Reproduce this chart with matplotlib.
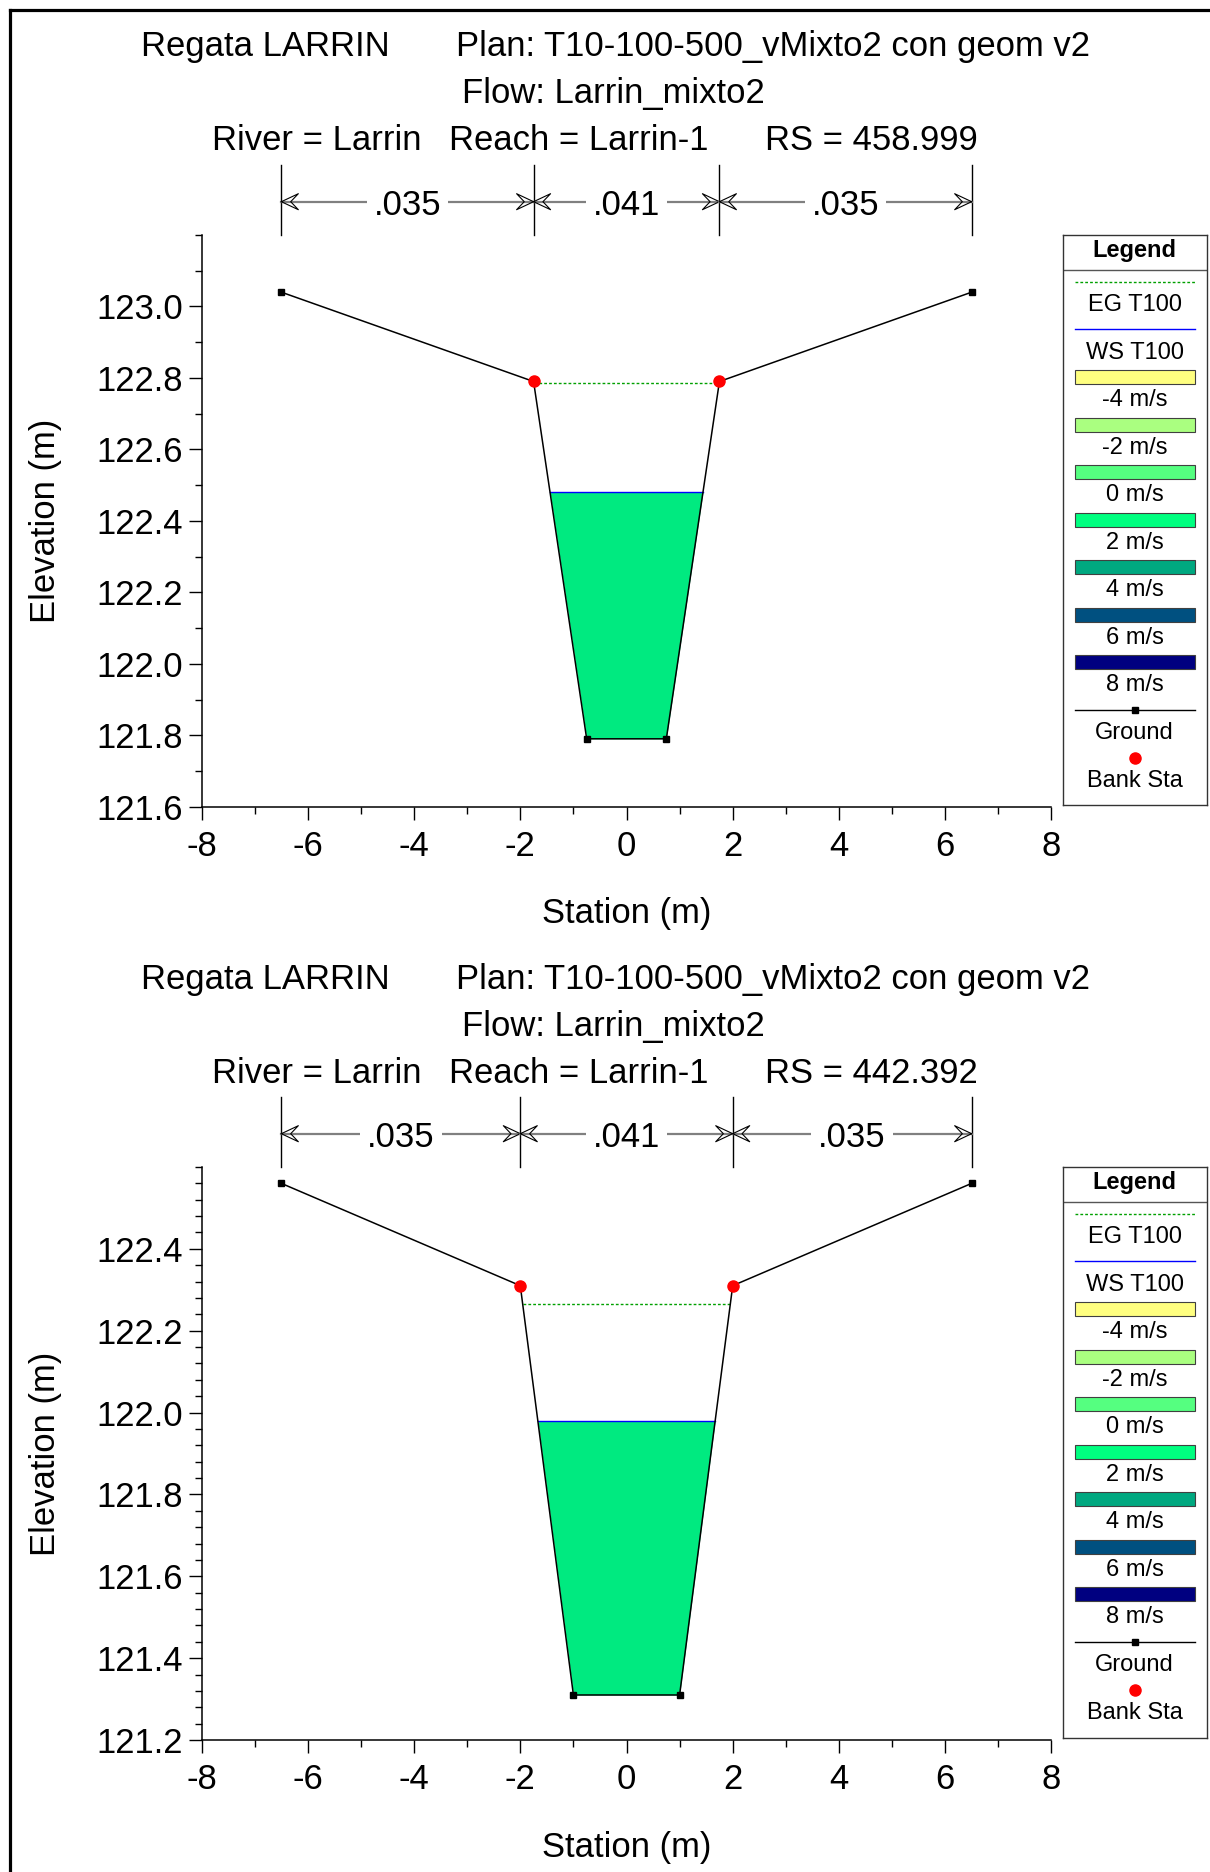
import numpy as np
import matplotlib
matplotlib.use("Agg")
import matplotlib.pyplot as plt
from matplotlib.lines import Line2D
from matplotlib.patches import Rectangle

plt.rcParams['font.family'] = ['Liberation Sans', 'DejaVu Sans']
plt.rcParams['axes.unicode_minus'] = False

title1 = "Regata LARRIN"
title_plan = "Plan: T10-100-500_vMixto2 con geom v2"
title_flow = "Flow: Larrin_mixto2"
river_txt = "River = Larrin"
reach_txt = "Reach = Larrin-1"

rs_top = "RS = 458.999"
sta_top = np.array([-6.5, -1.75, -0.75, 0.75, 1.75, 6.5])
elev_top = np.array([123.04, 122.79, 121.79, 121.79, 122.79, 123.04])
banks_top = [-1.75, 1.75]
ws_top = 122.48
eg_top = 122.785
nbreaks_top = [-6.5, -1.75, 1.75, 6.5]

rs_bot = "RS = 442.392"
sta_bot = np.array([-6.5, -2.0, -1.0, 1.0, 2.0, 6.5])
elev_bot = np.array([122.56, 122.31, 121.31, 121.31, 122.31, 122.56])
banks_bot = [-2.0, 2.0]
ws_bot = 121.98
eg_bot = 122.265
nbreaks_bot = [-6.5, -2.0, 2.0, 6.5]

n_values = ['.035', '.041', '.035']

leg_labels = ['-4 m/s', '-2 m/s', '0 m/s', '2 m/s', '4 m/s', '6 m/s', '8 m/s']
leg_colors = ['#FFFF80', '#AAFF80', '#55FF80', '#00FF80', '#00A880', '#005080', '#000080']
water_color = '#00EA80'

W, H = 1210, 1872
fig = plt.figure(figsize=(W / 100, H / 100), dpi=100)
FS = 24.9
LFS = 17


def fx(px):
    return px / W


def fy(py):
    return 1 - py / H


def wet_edges(sta, elev, level):
    xs = []
    for i in range(len(sta) - 1):
        z0, z1 = elev[i] - level, elev[i + 1] - level
        if z0 * z1 < 0:
            xs.append(sta[i] + (sta[i + 1] - sta[i]) * z0 / (z0 - z1))
    return xs[0], xs[-1]


def chevron(ax, x, y, direction):
    # hollow arrow head like HEC-RAS draws, x in data, y in axes fraction
    tr = ax.get_xaxis_transform()
    L, w = 0.32 * direction, 0.014
    px = [x, x - L, x - 0.55 * L, x - L, x]
    py = [y, y + w, y, y - w, y]
    ax.plot(px, py, color='black', lw=0.8, transform=tr, clip_on=False)


def draw_section(top_px, bot_px, sta, elev, banks, ws, eg, ylim, major, minor,
                 nbreaks, rs, title_y):
    ax = fig.add_axes([fx(201.7), fy(bot_px), fx(1051.3) - fx(201.7),
                       (bot_px - top_px) / H])
    ax.fill_between(sta, elev, ws, where=elev <= ws, interpolate=True,
                    color=water_color, lw=0, zorder=1)
    xl, xr = wet_edges(sta, elev, ws)
    ax.plot([xl, xr], [ws, ws], color='blue', lw=1.0, zorder=2)
    el, er = wet_edges(sta, elev, eg)
    ax.plot([el, er], [eg, eg], color='#00A000', lw=1.0, ls=(0, (2, 1.5)), zorder=2)
    ax.plot(sta, elev, color='black', lw=1.1, marker='s', ms=4.5, zorder=3)
    bank_z = np.interp(banks, sta, elev)
    ax.plot(banks, bank_z, ls='none', marker='o', ms=8, color='red',
            mec='red', zorder=4)

    ax.set_xlim(-8, 8)
    ax.set_ylim(*ylim)
    ax.set_xticks(np.arange(-8, 9, 2))
    ax.set_xticks(np.arange(-8, 9, 1), minor=True)
    ax.set_yticks(major)
    ax.set_yticks(minor, minor=True)
    ax.yaxis.set_major_formatter(matplotlib.ticker.FormatStrFormatter('%.1f'))
    ax.tick_params(which='major', length=9.5, width=1, labelsize=FS, pad=4)
    ax.tick_params(which='minor', length=5, width=1)
    ax.tick_params(axis='x', which='major', pad=7)
    for s in ['top', 'right']:
        ax.spines[s].set_visible(False)
    for s in ['left', 'bottom']:
        ax.spines[s].set_linewidth(1.1)

    h = bot_px - top_px
    ax.text(-0.1844, 0.5, 'Elevation (m)', transform=ax.transAxes, rotation=90,
            ha='center', va='center', fontsize=FS)
    ax.text(0.5, -(914 - 806.7) / h, 'Station (m)', transform=ax.transAxes,
            ha='center', va='center', fontsize=FS)

    # Manning's n bar above the plot
    tr = ax.get_xaxis_transform()
    y_arr = 1 + 33.3 / h
    for b in nbreaks:
        ax.plot([b, b], [1.0, 1 + 70 / h], color='black', lw=1, transform=tr,
                clip_on=False)
    for a, b, n in zip(nbreaks[:-1], nbreaks[1:], n_values):
        ax.plot([a, b], [y_arr, y_arr], color='#808080', lw=1.6, transform=tr,
                clip_on=False)
        chevron(ax, a, y_arr, -1)
        chevron(ax, b, y_arr, 1)
        ax.text((a + b) / 2, y_arr - 3.5 / h, n, transform=tr, ha='center',
                va='center', fontsize=FS,
                bbox=dict(boxstyle='square,pad=0.2', fc='white', ec='none'))

    # titles
    y1, y2, y3 = [t + 3.5 for t in title_y]
    fig.text(fx(140.8), fy(y1), title1, fontsize=FS, va='center', ha='left')
    fig.text(fx(455.8), fy(y1), title_plan, fontsize=FS, va='center', ha='left')
    fig.text(fx(613.5), fy(y2), title_flow, fontsize=FS, va='center', ha='center')
    fig.text(fx(212.4), fy(y3), river_txt, fontsize=FS, va='center', ha='left')
    fig.text(fx(448.7), fy(y3), reach_txt, fontsize=FS, va='center', ha='left')
    fig.text(fx(764.9), fy(y3), rs, fontsize=FS, va='center', ha='left')

    # legend box
    lw_, lh_ = 143.5, bot_px - top_px - 2
    lg = fig.add_axes([fx(1063), fy(top_px + lh_), lw_ / W, lh_ / H])
    lg.set_xlim(0, lw_)
    lg.set_ylim(lh_, 0)
    lg.set_xticks([])
    lg.set_yticks([])
    for s in lg.spines.values():
        s.set_linewidth(1.0)
        s.set_color('#333333')
    cx = lw_ / 2
    x0, x1 = 12, 131.5
    dy = 3
    lg.text(cx, 14.3 + 1.5, 'Legend', ha='center', va='center', fontsize=LFS,
            fontweight='bold')
    lg.plot([0, lw_], [34.6, 34.6], color='#555555', lw=1)
    lg.plot([x0, x1], [46.5, 46.5], color='#00A000', lw=1, ls=(0, (2, 1.5)))
    lg.text(cx, 66.8 + dy, 'EG T100', ha='center', va='center', fontsize=LFS)
    lg.plot([x0, x1], [94.3, 94.3], color='blue', lw=1)
    lg.text(cx, 114.6 + dy, 'WS T100', ha='center', va='center', fontsize=LFS)
    for k, (lab, col) in enumerate(zip(leg_labels, leg_colors)):
        ys = 142 + 47.5 * k
        lg.add_patch(Rectangle((x0, ys - 7), x1 - x0, 14, fc=col, ec='#404040', lw=0.8))
        lg.text(cx, ys + 20.3 + dy, lab, ha='center', va='center', fontsize=LFS)
    lg.plot([x0, x1], [475, 475], color='black', lw=1)
    lg.plot([cx], [475], marker='s', ms=4.5, color='black')
    lg.text(cx, 495 + dy, 'Ground', ha='center', va='center', fontsize=LFS)
    lg.plot([cx], [522.7], marker='o', ms=8, color='red', mec='red')
    lg.text(cx, 543 + dy, 'Bank Sta', ha='center', va='center', fontsize=LFS)
    return ax


draw_section(235, 806.7, sta_top, elev_top, banks_top, ws_top, eg_top,
             (121.6, 123.2), np.arange(121.6, 123.01, 0.2),
             np.arange(121.6, 123.21, 0.1), nbreaks_top, rs_top, (43, 89.5, 137))
draw_section(1167, 1740, sta_bot, elev_bot, banks_bot, ws_bot, eg_bot,
             (121.2, 122.6), np.arange(121.2, 122.41, 0.2),
             np.arange(121.2, 122.61, 0.04), nbreaks_bot, rs_bot, (976, 1023, 1070))

# outer frame of the screenshot (left and top edges)
fig.add_artist(Line2D([fx(9.5), fx(9.5)], [0, fy(9.5)], color='black', lw=2.3))
fig.add_artist(Line2D([fx(9.5), 1], [fy(9.5), fy(9.5)], color='black', lw=2.3))

fig.savefig('out.png', dpi=100)
